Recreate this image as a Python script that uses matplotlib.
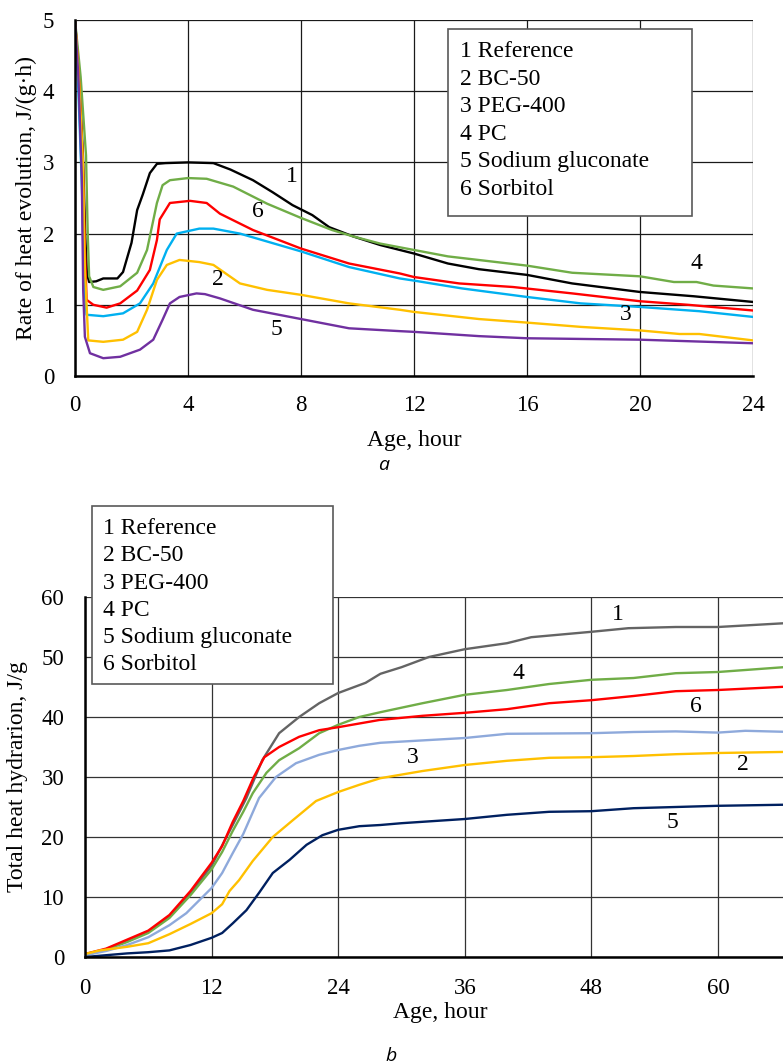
"""Heat of hydration plots: (a) rate of heat evolution, (b) total heat."""
import matplotlib
matplotlib.use("Agg")
import matplotlib.pyplot as plt
from matplotlib.patches import Rectangle

plt.rcParams.update({
    "font.family": ["Liberation Serif", "DejaVu Serif"],
    "font.size": 16,
    "axes.linewidth": 1.8,
})

W, H = 783, 1063

LEGEND = ["1 Reference", "2 BC-50", "3 PEG-400", "4 PC",
          "5 Sodium gluconate", "6 Sorbitol"]

# --------------------------------------------------------------------------- #
# (a) rate of heat evolution, J/(g*h) vs age, hour                             #
# --------------------------------------------------------------------------- #
a_ref_x = [0, 0.15, 0.28, 0.36, 0.42, 0.5, 0.75, 1.0, 1.5, 1.7, 2.0, 2.2, 2.4, 2.65,
           2.9, 3.2, 4.0, 4.9, 5.5, 6.3, 7.0, 7.7, 8.4, 9.0, 9.85, 10.8, 12, 13.2,
           14.3, 16, 17.6, 20, 21.9, 24]
a_ref_y = [5.0, 4.2, 3.1, 2.0, 1.45, 1.32, 1.33, 1.37, 1.37, 1.46, 1.87, 2.33, 2.55,
           2.85, 2.98, 2.99, 3.0, 2.99, 2.9, 2.75, 2.58, 2.40, 2.26, 2.09, 1.96, 1.84,
           1.72, 1.58, 1.50, 1.42, 1.30, 1.18, 1.12, 1.04]

a_pc_x = [0, 0.2, 0.39, 0.45, 0.5, 0.65, 1.0, 1.6, 2.2, 2.55, 2.9, 3.1, 3.36, 4.0,
          4.66, 5.6, 6.8, 8.0, 9.1, 9.85, 10.8, 12, 13.2, 16, 17.6, 20, 21.2, 22,
          22.6, 24]
a_pc_y = [5.0, 4.2, 3.1, 2.0, 1.4, 1.25, 1.21, 1.26, 1.45, 1.77, 2.43, 2.68, 2.75,
          2.78, 2.77, 2.66, 2.42, 2.22, 2.05, 1.96, 1.86, 1.77, 1.68, 1.55, 1.45,
          1.40, 1.32, 1.32, 1.27, 1.23]

a_sorb_x = [0, 0.15, 0.28, 0.35, 0.41, 0.65, 1.12, 1.6, 2.2, 2.65, 2.9, 3.0, 3.36,
            4.07, 4.66, 5.13, 6.3, 8.0, 9.7, 11.5, 12, 13.6, 15.5, 17.6, 20, 21.7, 24]
a_sorb_y = [5.0, 4.1, 3.0, 1.8, 1.07, 1.0, 0.96, 1.02, 1.2, 1.49, 1.91, 2.2, 2.43,
            2.46, 2.43, 2.28, 2.05, 1.79, 1.58, 1.44, 1.39, 1.30, 1.25, 1.16, 1.05,
            1.0, 0.92]

a_peg_x = [0, 0.12, 0.25, 0.32, 0.41, 1.0, 1.7, 2.3, 2.77, 3.25, 3.6, 4.4, 4.9, 5.84,
           8.0, 9.7, 11.5, 12, 13.7, 16, 17.9, 20, 22.1, 24]
a_peg_y = [5.0, 4.0, 2.6, 1.3, 0.86, 0.84, 0.88, 1.02, 1.3, 1.77, 2.0, 2.07, 2.07,
           2.0, 1.75, 1.53, 1.37, 1.34, 1.23, 1.11, 1.02, 0.97, 0.91, 0.83]

a_bc_x = [0, 0.15, 0.28, 0.35, 0.47, 1.0, 1.7, 2.2, 2.55, 2.9, 3.25, 3.7, 4.4, 4.9,
          5.84, 6.8, 8.0, 9.7, 11.5, 12, 14.3, 16, 17.9, 20, 21.4, 22.1, 24]
a_bc_y = [5.0, 4.1, 3.0, 1.5, 0.5, 0.48, 0.51, 0.62, 0.93, 1.35, 1.56, 1.63, 1.6,
          1.56, 1.30, 1.21, 1.14, 1.02, 0.93, 0.90, 0.80, 0.75, 0.69, 0.64, 0.59,
          0.59, 0.50]

a_sg_x = [0, 0.12, 0.24, 0.29, 0.35, 0.53, 1.0, 1.6, 2.3, 2.77, 3.1, 3.36, 3.7, 4.3,
          4.6, 5.13, 6.3, 8.0, 9.7, 11.5, 12, 14.3, 16, 20, 24]
a_sg_y = [5.0, 4.2, 2.8, 1.2, 0.55, 0.32, 0.25, 0.27, 0.37, 0.51, 0.79, 1.02, 1.11,
          1.16, 1.15, 1.09, 0.93, 0.80, 0.67, 0.63, 0.62, 0.56, 0.53, 0.51, 0.46]

# curve number labels: text, x (hour), y
a_tags = ["1", "6", "2", "5", "4", "3"]
a_tag_x = [7.67, 6.47, 5.07, 7.14, 22.0, 19.5]
a_tag_y = [2.80, 2.31, 1.35, 0.65, 1.58, 0.86]

# --------------------------------------------------------------------------- #
# (b) total heat of hydration, J/g vs age, hour                                #
# --------------------------------------------------------------------------- #
b_ref_x = [0, 2, 4, 6, 8, 10, 12, 14, 15.3, 16.8, 18.4, 20.3, 22.2, 24, 26.6, 28, 30,
           32.6, 36, 40, 42.3, 48, 51.5, 56, 60, 67]
b_ref_y = [0.4, 1.3, 2.7, 4.2, 6.8, 10.7, 15.2, 22.0, 26.5, 32.8, 37.3, 40.0, 42.3,
           44.0, 45.7, 47.2, 48.3, 50.0, 51.3, 52.3, 53.3, 54.2, 54.8, 55.0, 55.0, 55.7]

b_pc_x = [0, 2, 4, 6, 8, 10, 12, 13, 14, 15, 15.9, 17.2, 18.4, 20.3, 22.2, 24, 26, 28,
          32, 36, 40, 44, 48, 52, 56, 60, 67]
b_pc_y = [0.3, 1.2, 2.5, 4.0, 6.5, 10.3, 14.6, 17.5, 21.0, 24.2, 27.3, 30.7, 32.8,
          34.8, 37.3, 38.7, 40.0, 40.8, 42.3, 43.7, 44.5, 45.5, 46.2, 46.5, 47.3,
          47.5, 48.4]

b_sorb_x = [0, 2, 4, 6, 8, 10, 12, 13, 14, 15, 16, 17, 18.4, 20.3, 22.2, 24, 27.9,
            32, 36, 40, 44, 48, 52, 56, 60, 67]
b_sorb_y = [0.5, 1.4, 2.9, 4.4, 7.0, 11.0, 15.7, 18.5, 22.5, 26.0, 30.0, 33.3, 35.0,
            36.7, 37.8, 38.3, 39.5, 40.2, 40.7, 41.3, 42.3, 42.8, 43.5, 44.3, 44.5,
            45.1]

b_peg_x = [0, 2, 4, 6, 8, 9.6, 12, 13, 14, 15, 16.5, 18.1, 20, 22.2, 24, 26, 28, 32,
           36, 40, 48, 52, 56, 60, 62.6, 67]
b_peg_y = [0.3, 1.0, 2.0, 3.3, 5.3, 7.3, 11.5, 14.0, 17.3, 20.5, 26.5, 30.0, 32.3,
           33.7, 34.5, 35.2, 35.7, 36.1, 36.5, 37.2, 37.3, 37.5, 37.6, 37.4, 37.7, 37.5]

b_bc_x = [0, 1.4, 4, 6, 8, 10, 12, 13, 13.7, 14.6, 15.9, 17.8, 19.7, 21.9, 24, 26, 28,
          32, 36, 40, 44, 48, 52, 56, 60, 67]
b_bc_y = [0.5, 1.1, 1.7, 2.3, 3.8, 5.5, 7.3, 8.8, 11.0, 12.8, 16.0, 20.0, 22.8, 26.0,
          27.5, 28.7, 29.8, 31.0, 32.0, 32.7, 33.2, 33.3, 33.5, 33.8, 34.0, 34.2]

b_sg_x = [0, 2, 4, 6, 8, 10, 12, 13, 14, 15.3, 16.5, 17.8, 19.4, 21, 22.5, 24, 26, 28,
          30, 36, 40, 44, 48, 52, 56, 60, 67]
b_sg_y = [0.0, 0.3, 0.6, 0.8, 1.1, 2.0, 3.2, 4.0, 5.6, 7.8, 10.7, 14.0, 16.2, 18.7,
          20.3, 21.2, 21.8, 22.0, 22.3, 23.0, 23.7, 24.2, 24.3, 24.8, 25.0, 25.2, 25.4]

b_tags = ["1", "4", "6", "3", "2", "5"]
b_tag_x = [50.5, 41.1, 57.9, 31.1, 62.4, 55.7]
b_tag_y = [57.0, 47.3, 41.7, 33.2, 32.0, 22.5]

TXT = 17      # legend, axis titles, curve numbers
TICK = 16.5


def fx(px):
    return px / W


def fy(py):
    return 1 - py / H


def style_axes(ax, pad_x, pad_y):
    for s in ("top", "right"):
        ax.spines[s].set_visible(False)
    ax.tick_params(length=0, labelsize=TICK)
    ax.tick_params(axis="x", pad=pad_x)
    ax.tick_params(axis="y", pad=pad_y)
    ax.set_axisbelow(True)


def legend_box(fig, x0, y0, x1, y1, tx, ty0, step):
    fig.add_artist(Rectangle((fx(x0), fy(y1)), fx(x1) - fx(x0), fy(y0) - fy(y1),
                             transform=fig.transFigure, facecolor="white",
                             edgecolor="#595959", lw=1.2, zorder=5))
    for i, lab in enumerate(LEGEND):
        fig.text(fx(tx), fy(ty0 + i * step), lab, ha="left", va="baseline",
                 fontsize=TXT, zorder=6)


fig = plt.figure(figsize=(W / 100, H / 100), dpi=100)

# ---- (a) ----
ax1 = fig.add_axes([fx(75), fy(376), 678 / W, 356 / H])
lw = 1.7
ax1.plot(a_ref_x, a_ref_y, color="#000000", lw=lw)
ax1.plot(a_pc_x, a_pc_y, color="#70AD47", lw=lw)
ax1.plot(a_sorb_x, a_sorb_y, color="#FF0000", lw=lw)
ax1.plot(a_peg_x, a_peg_y, color="#00B0F0", lw=lw)
ax1.plot(a_bc_x, a_bc_y, color="#FFC000", lw=lw)
ax1.plot(a_sg_x, a_sg_y, color="#7030A0", lw=lw)
for t, x, y in zip(a_tags, a_tag_x, a_tag_y):
    ax1.text(x, y, t, ha="center", va="center", fontsize=TXT)
ax1.set_xlim(0, 24)
ax1.set_ylim(0, 5)
ax1.set_xticks(range(0, 25, 4))
ax1.set_yticks(range(0, 6))
ax1.grid(True, color="#1a1a1a", lw=0.9)
style_axes(ax1, 14, 15)
ax1.set_xlabel("Age, hour", fontsize=TXT)
ax1.xaxis.set_label_coords(0.5, -0.152)
ax1.set_ylabel("Rate of heat evolution, J/(g·h)", fontsize=TXT)
ax1.yaxis.set_label_coords(-0.056, 0.5)
fig.text(fx(384), fy(465), "a", ha="center", va="center", fontsize=14,
         family=["Open Sans", "DejaVu Sans"], style="italic")
legend_box(fig, 448, 29, 692, 216, 460, 57, 27.6)

# ---- (b) ----
ax2 = fig.add_axes([fx(85), fy(957), 710 / W, 360 / H])
ax2.plot(b_ref_x, b_ref_y, color="#646464", lw=lw)
ax2.plot(b_pc_x, b_pc_y, color="#70AD47", lw=lw)
ax2.plot(b_sorb_x, b_sorb_y, color="#FF0000", lw=lw)
ax2.plot(b_peg_x, b_peg_y, color="#8EA9DB", lw=lw)
ax2.plot(b_bc_x, b_bc_y, color="#FFC000", lw=lw)
ax2.plot(b_sg_x, b_sg_y, color="#002060", lw=lw)
for t, x, y in zip(b_tags, b_tag_x, b_tag_y):
    ax2.text(x, y, t, ha="center", va="center", fontsize=TXT)
ax2.set_xlim(0, 67.3)
ax2.set_ylim(0, 60)
ax2.set_xticks(range(0, 61, 12))
ax2.set_yticks(range(0, 61, 10))
ax2.grid(True, color="#333333", lw=0.9)
style_axes(ax2, 15, 15)
ax2.set_xlabel("Age, hour", fontsize=TXT)
ax2.xaxis.set_label_coords(0.5, -0.125)
ax2.set_ylabel("Total heat hydrarion, J/g", fontsize=TXT)
ax2.yaxis.set_label_coords(-0.08, 0.5)
fig.text(fx(391), fy(1056), "b", ha="center", va="center", fontsize=14,
         family=["Open Sans", "DejaVu Sans"], style="italic")
legend_box(fig, 92, 506, 333, 684, 103, 534, 27.3)

fig.savefig("out.png", dpi=100, facecolor="white")
